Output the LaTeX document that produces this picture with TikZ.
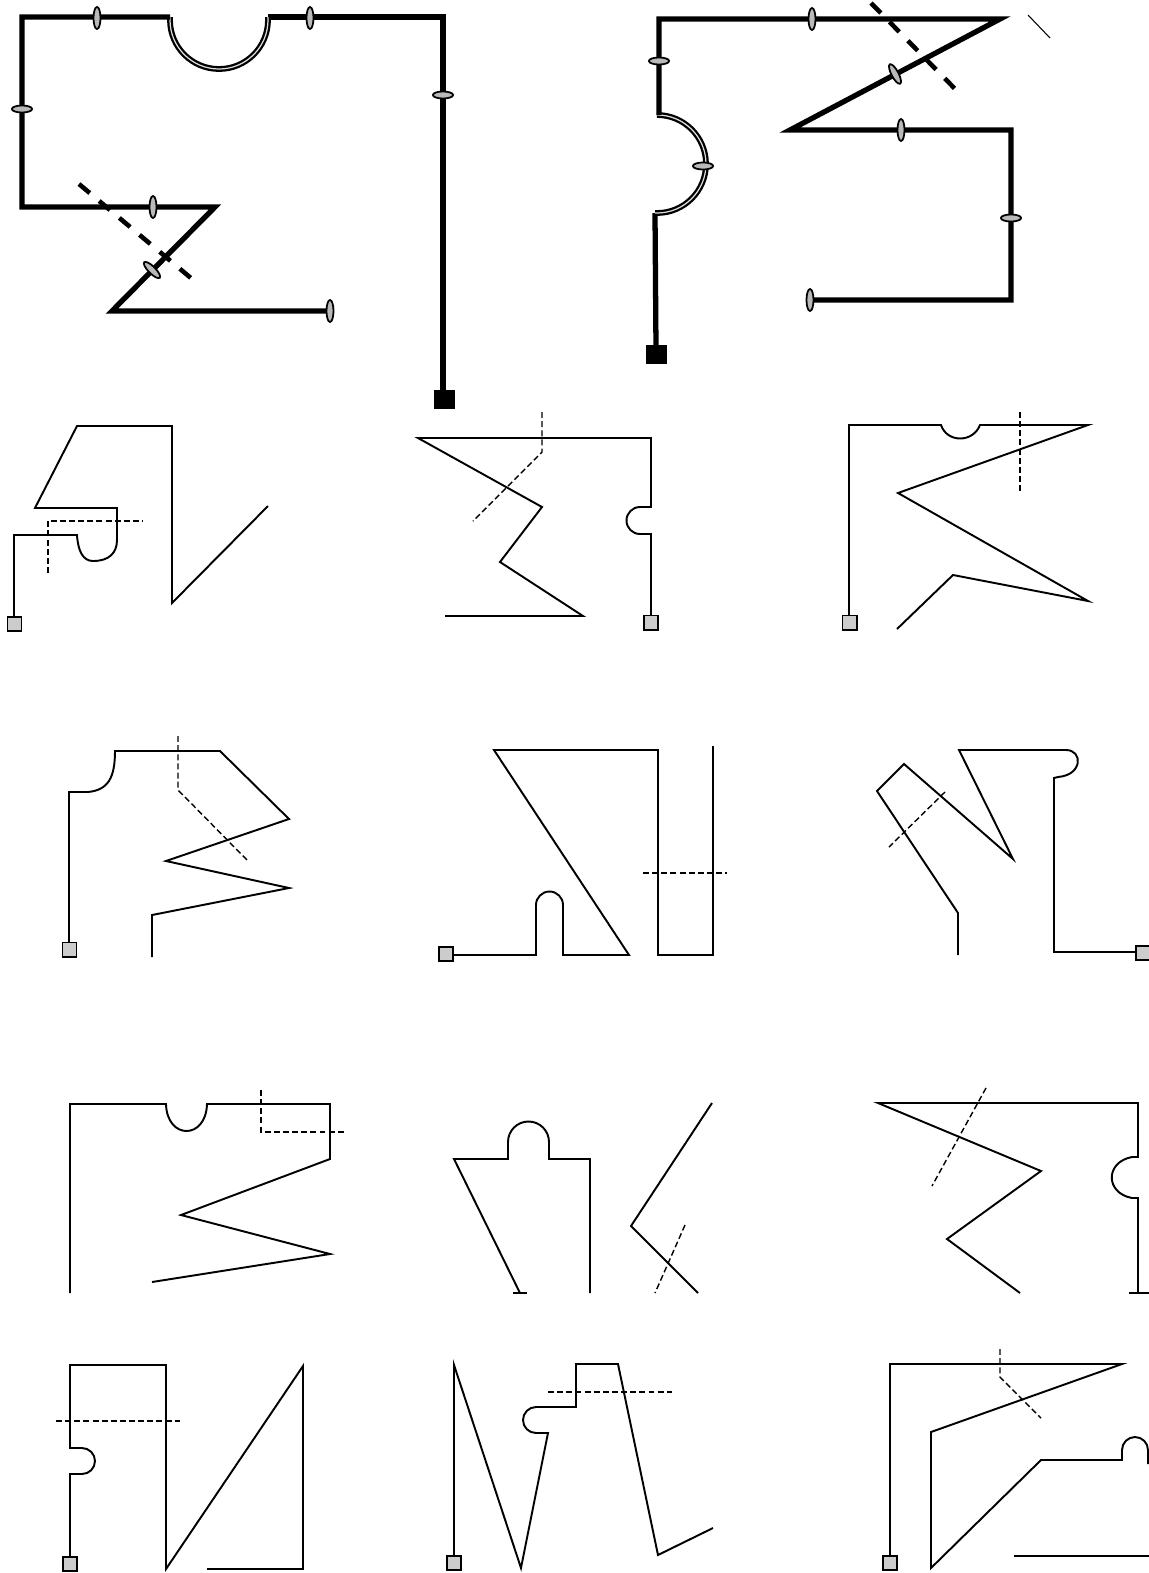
\documentclass[tikz,border=0pt]{standalone}
\usetikzlibrary{shapes.geometric}

\begin{document}
\begin{tikzpicture}[x=0.02cm,y=-0.02cm,
  grueso/.style={line width=3pt},
  arco/.style={line width=1.3pt,double=gray!25,double distance=0.7pt},
  fino/.style={line width=1.1pt},
  corte/.style={line width=2.6pt,dash pattern=on 8pt off 7pt},
  cortefino/.style={line width=0.8pt,dash pattern=on 3.4pt off 1.8pt},
  anillo/.style={ellipse,draw,fill=gray!55,line width=1pt,inner sep=0pt,minimum width=4pt,minimum height=12.5pt},
  anilloh/.style={anillo,minimum width=11.5pt,minimum height=4pt},
  toma/.style={draw,fill=black,inner sep=0pt,minimum width=11.3pt,minimum height=10.2pt},
  tomita/.style={draw,fill=gray!40,line width=1.1pt,inner sep=0pt,minimum size=8pt}]
  \useasboundingbox (0,0) rectangle (1149,1573);

  % figura grande izquierda
  \draw[grueso] (443,392) -- (443,17) -- (268,17);
  \draw[arco] (268,17) -- (268,20) arc[start angle=0,end angle=180,radius=49] -- (170,17);
  \draw[grueso] (170,17) -- (22,17) -- (22,207) -- (215,207) -- (112,311) -- (330,311);
  \draw[corte] (79,184) -- (198,284);
  \node[toma] (tA) at (444,399) {};
  \node[anillo] (a1) at (97,18) {};
  \node[anillo] (a2) at (310,18) {};
  \node[anilloh] (a3) at (22,109) {};
  \node[anilloh] (a4) at (443,95) {};
  \node[anillo] (a5) at (153,207) {};
  \node[anillo,rotate=45] (a6) at (152,270) {};
  \node[anillo] (a7) at (330,311) {};

  % figura grande derecha
  \draw[grueso] (656,349) -- (655,213);
  \draw[arco] (655,213) -- (657,213) arc[start angle=90,end angle=-90,radius=49] -- (659,115);
  \draw[grueso] (659,115) -- (659,19) -- (1000,19) -- (790,130) -- (1011,130) -- (1011,300) -- (810,300);
  \draw[corte] (871,3) -- (962,96);
  \draw[line width=0.6pt] (1028,15) -- (1050,38);
  \node[toma] (tB) at (656,354) {};
  \node[anillo] (b1) at (812,19) {};
  \node[anilloh] (b2) at (659,61) {};
  \node[anilloh] (b3) at (703,166) {};
  \node[anillo,rotate=28] (b4) at (895,74) {};
  \node[anillo] (b5) at (901,130) {};
  \node[anilloh] (b6) at (1011,218) {};
  \node[anillo] (b7) at (810,300) {};

  % fila 2
  \draw[fino] (14,617) -- (14,535) -- (77,535) .. controls (78,551) and (83,561) .. (93,561)
    .. controls (109,561) and (117,553) .. (117,540) -- (117,508) -- (35,508) -- (77,426)
    -- (172,426) -- (172,603) -- (268,506);
  \draw[cortefino] (48,573) -- (48,521) -- (143,521);
  \node[tomita] (t1) at (14.5,624) {};

  \draw[fino] (651,615) -- (651,534) -- (640,534) arc[start angle=90,end angle=270,radius=13.5]
    -- (651,507) -- (651,438) -- (418,438) -- (542,507) -- (500,562) -- (583,616) -- (445,616);
  \draw[cortefino] (542,412) -- (542,452) -- (473,521);
  \node[tomita] (t2) at (651,622.5) {};

  \draw[fino] (849,615) -- (849,425) -- (941,425) .. controls (947,443) and (973,443) .. (980,425)
    -- (1088,425) -- (898,493) -- (1088,601) -- (953,575) -- (897,629);
  \draw[cortefino] (1020,412) -- (1020,494);
  \node[tomita] (t3) at (849.5,622.5) {};

  % fila 3
  \draw[fino] (69,942) -- (69,792) -- (88,792) .. controls (108,790) and (115,778) .. (115,751)
    -- (220,751) -- (289,819) -- (166,861) -- (289,888) -- (152,915) -- (152,957);
  \draw[cortefino] (178,736) -- (178,790) -- (248,861);
  \node[tomita] (t4) at (69.5,949.5) {};

  \draw[fino] (453,955) -- (536,955) -- (536,905) arc[start angle=180,end angle=360,radius=13.5]
    -- (563,955) -- (629,955) -- (494,750) -- (658,750) -- (658,955) -- (713,955) -- (713,746);
  \draw[cortefino] (643,873) -- (727,873);
  \node[tomita] (t5) at (446,954) {};

  \draw[fino] (1137,952) -- (1054,952) -- (1054,778) -- (1058,777) .. controls (1083,775) and (1083,750) .. (1066,750)
    -- (959,750) -- (1013,859) -- (904,764) -- (877,791) -- (958,913) -- (958,955);
  \draw[cortefino] (945,792) -- (889,847);
  \node[tomita] (t6) at (1143,953) {};

  % fila 4
  \draw[fino] (70,1293) -- (70,1104) -- (166,1104) .. controls (167,1140) and (206,1140) .. (207,1104)
    -- (330,1104) -- (330,1159) -- (181,1215) -- (330,1254) -- (152,1282);
  \draw[cortefino] (261,1090) -- (261,1132) -- (344,1132);

  \draw[fino] (520,1293) -- (454,1159) -- (508,1159) -- (508,1142) arc[start angle=180,end angle=360,radius=20.5]
    -- (549,1159) -- (590,1159) -- (590,1293);
  \draw[fino] (513,1293) -- (527,1293);
  \draw[fino] (712,1103) -- (631,1226) -- (698,1293);
  \draw[cortefino] (685,1225) -- (655,1293);

  \draw[fino] (1020,1293) -- (947,1239) -- (1041,1171) -- (878,1103) -- (1138,1103) -- (1138,1157)
    -- (1132,1157) .. controls (1105,1162) and (1105,1193) .. (1132,1198) -- (1138,1198) -- (1138,1293);
  \draw[fino] (1129,1293) -- (1149,1293);
  \draw[cortefino] (986,1088) -- (932,1186);

  % fila 5
  \draw[fino] (70,1556) -- (70,1474) -- (82,1474) arc[start angle=90,end angle=-90,radius=13]
    -- (70,1448) -- (70,1365) -- (166,1365) -- (166,1569) -- (303,1366) -- (303,1569) -- (207,1569);
  \draw[cortefino] (56,1421) -- (180,1421);
  \node[tomita] (t7) at (70,1564) {};

  \draw[fino] (454,1555) -- (454,1365) -- (521,1568) -- (548,1433) -- (536,1433) arc[start angle=90,end angle=270,radius=13]
    -- (576,1407) -- (576,1364) -- (618,1364) -- (658,1555) -- (713,1528);
  \draw[cortefino] (548,1392) -- (672,1392);
  \node[tomita] (t8) at (454,1563) {};

  \draw[fino] (890,1555) -- (890,1364) -- (1122,1364) -- (931,1432) -- (931,1568) -- (1041,1460)
    -- (1122,1460) -- (1122,1450) arc[start angle=180,end angle=360,radius=13] -- (1148,1464);
  \draw[fino] (1014,1556) -- (1149,1556);
  \draw[cortefino] (1000,1349) -- (1000,1377) -- (1041,1418);
  \node[tomita] (t9) at (890,1563) {};
\end{tikzpicture}
\end{document}
